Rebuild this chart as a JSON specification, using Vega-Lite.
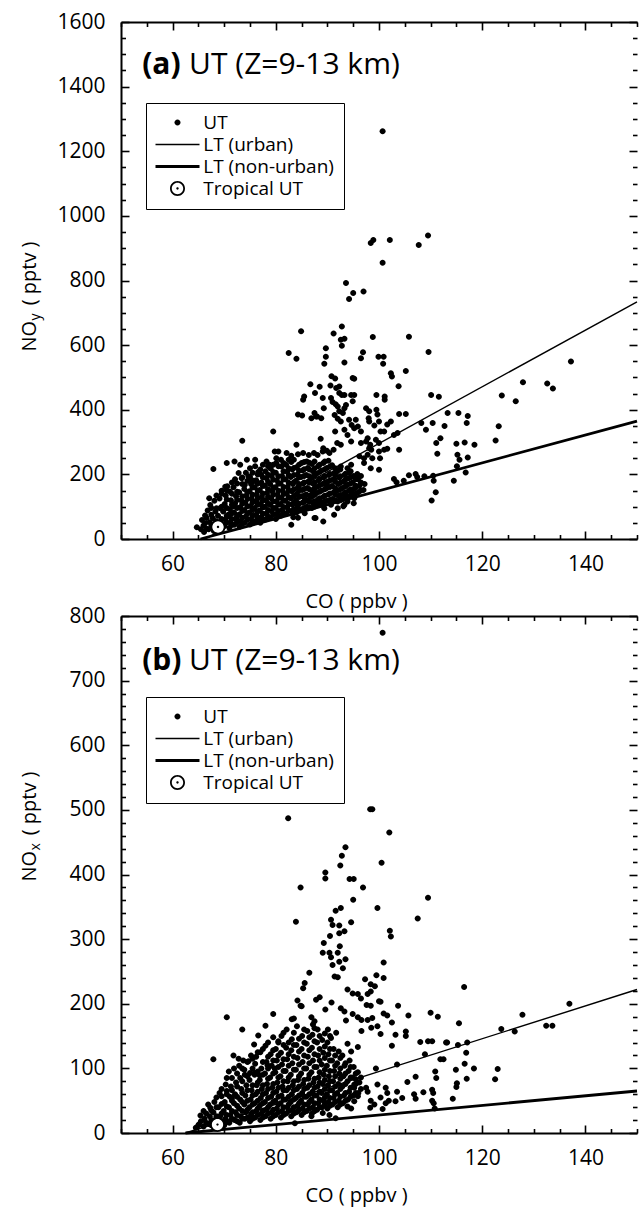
{
"$schema": "https://vega.github.io/schema/vega-lite/v6.json",
"padding": {"left": 19, "top": 11, "right": 0, "bottom": 8},
"background": "white",
"config": {
  "font": "Open Sans",
  "view": {"stroke": null},
  "axis": {"grid": false, "domainColor": "black", "domainWidth": 2, "tickColor": "black", "tickWidth": 1.6, "labelColor": "black", "labelFontSize": 21, "labelFont": "Open Sans", "titleFont": "Open Sans", "titleFontSize": 20, "titleFontWeight": "normal", "titleColor": "black", "labelFlush": false, "labelOverlap": false, "labelBound": false}
},
"datasets": {
"noy": [
{"CO":100.7,"NOy":1262},{"CO":98.4,"NOy":916},{"CO":98.9,"NOy":925},{"CO":102.1,"NOy":925},{"CO":107.7,"NOy":910},{"CO":109.5,"NOy":939},{"CO":100.7,"NOy":855},{"CO":93.6,"NOy":792},{"CO":95.0,"NOy":761},{"CO":94.2,"NOy":743},{"CO":97.0,"NOy":766},{"CO":84.9,"NOy":643},{"CO":91.2,"NOy":636},{"CO":92.8,"NOy":658},{"CO":92.6,"NOy":617},{"CO":93.3,"NOy":620},{"CO":92.8,"NOy":598},{"CO":98.8,"NOy":625},{"CO":105.8,"NOy":626},{"CO":82.5,"NOy":576},{"CO":84.0,"NOy":558},{"CO":89.7,"NOy":590},{"CO":89.7,"NOy":564},{"CO":89.4,"NOy":542},{"CO":96.9,"NOy":578},{"CO":96.5,"NOy":559},{"CO":93.3,"NOy":546},{"CO":99.9,"NOy":564},{"CO":100.9,"NOy":564},{"CO":100.8,"NOy":542},{"CO":109.6,"NOy":579},{"CO":137.2,"NOy":549},{"CO":102.3,"NOy":513},{"CO":102.5,"NOy":503},{"CO":105.2,"NOy":520},{"CO":103.8,"NOy":473},{"CO":90.8,"NOy":504},{"CO":91.5,"NOy":497},{"CO":94.9,"NOy":498},{"CO":95.2,"NOy":496},{"CO":86.7,"NOy":479},{"CO":88.5,"NOy":471},{"CO":90.6,"NOy":475},{"CO":92.3,"NOy":472},{"CO":91.7,"NOy":467},{"CO":92.3,"NOy":452},{"CO":92.8,"NOy":446},{"CO":93.3,"NOy":446},{"CO":94.6,"NOy":446},{"CO":95.2,"NOy":446},{"CO":94.9,"NOy":426},{"CO":87.6,"NOy":452},{"CO":89.1,"NOy":436},{"CO":85.5,"NOy":441},{"CO":85.3,"NOy":431},{"CO":90.7,"NOy":436},{"CO":91.0,"NOy":424},{"CO":91.6,"NOy":417},{"CO":92.0,"NOy":410},{"CO":93.3,"NOy":405},{"CO":93.6,"NOy":415},{"CO":92.3,"NOy":395},{"CO":93.0,"NOy":390},{"CO":91.4,"NOy":384},{"CO":92.0,"NOy":372},{"CO":92.6,"NOy":364},{"CO":94.2,"NOy":369},{"CO":94.7,"NOy":353},{"CO":95.2,"NOy":343},{"CO":99.5,"NOy":446},{"CO":101.1,"NOy":441},{"CO":101.1,"NOy":431},{"CO":97.5,"NOy":405},{"CO":98.1,"NOy":395},{"CO":99.5,"NOy":400},{"CO":99.7,"NOy":385},{"CO":98.0,"NOy":374},{"CO":98.1,"NOy":364},{"CO":100.0,"NOy":364},{"CO":99.1,"NOy":351},{"CO":103.9,"NOy":387},{"CO":105.2,"NOy":387},{"CO":102.3,"NOy":364},{"CO":101.6,"NOy":354},{"CO":101.0,"NOy":333},{"CO":100.3,"NOy":333},{"CO":102.9,"NOy":322},{"CO":103.6,"NOy":328},{"CO":99.4,"NOy":307},{"CO":100.0,"NOy":297},{"CO":98.3,"NOy":292},{"CO":98.5,"NOy":276},{"CO":101.6,"NOy":279},{"CO":100.0,"NOy":271},{"CO":101.0,"NOy":276},{"CO":103.9,"NOy":276},{"CO":97.8,"NOy":261},{"CO":97.1,"NOy":250},{"CO":96.2,"NOy":256},{"CO":98.7,"NOy":250},{"CO":100.2,"NOy":250},{"CO":97.1,"NOy":235},{"CO":98.4,"NOy":219},{"CO":100.0,"NOy":214},{"CO":95.8,"NOy":201},{"CO":94.6,"NOy":230},{"CO":93.9,"NOy":219},{"CO":92.6,"NOy":224},{"CO":96.5,"NOy":297},{"CO":97.5,"NOy":302},{"CO":98.1,"NOy":281},{"CO":97.8,"NOy":312},{"CO":95.5,"NOy":369},{"CO":95.9,"NOy":348},{"CO":96.5,"NOy":333},{"CO":93.3,"NOy":338},{"CO":93.9,"NOy":322},{"CO":94.6,"NOy":302},{"CO":92.6,"NOy":292},{"CO":91.9,"NOy":297},{"CO":91.2,"NOy":276},{"CO":89.2,"NOy":281},{"CO":89.9,"NOy":273},{"CO":90.4,"NOy":266},{"CO":87.8,"NOy":379},{"CO":86.9,"NOy":374},{"CO":87.5,"NOy":390},{"CO":84.3,"NOy":385},{"CO":88.7,"NOy":310},{"CO":91.5,"NOy":333},{"CO":89.3,"NOy":405},{"CO":85.1,"NOy":382},{"CO":88.0,"NOy":379},{"CO":88.8,"NOy":374},{"CO":79.5,"NOy":333},{"CO":73.5,"NOy":304},{"CO":84.0,"NOy":292},{"CO":79.8,"NOy":271},{"CO":80.5,"NOy":271},{"CO":82.1,"NOy":266},{"CO":83.0,"NOy":258},{"CO":84.3,"NOy":262},{"CO":85.3,"NOy":266},{"CO":86.4,"NOy":260},{"CO":87.4,"NOy":266},{"CO":88.1,"NOy":260},{"CO":89.1,"NOy":271},{"CO":70.5,"NOy":235},{"CO":72.0,"NOy":240},{"CO":73.1,"NOy":230},{"CO":74.4,"NOy":245},{"CO":76.0,"NOy":245},{"CO":75.0,"NOy":219},{"CO":76.6,"NOy":207},{"CO":78.2,"NOy":240},{"CO":78.8,"NOy":230},{"CO":80.1,"NOy":235},{"CO":81.1,"NOy":224},{"CO":67.9,"NOy":217},{"CO":67.1,"NOy":126},{"CO":70.6,"NOy":163},{"CO":72.8,"NOy":204},{"CO":73.4,"NOy":188},{"CO":74.7,"NOy":194},{"CO":75.6,"NOy":178},{"CO":77.2,"NOy":199},{"CO":74.0,"NOy":168},{"CO":69.5,"NOy":149},{"CO":70.2,"NOy":162},{"CO":71.1,"NOy":147},{"CO":66.3,"NOy":73},{"CO":65.7,"NOy":59},{"CO":64.7,"NOy":36},{"CO":66.3,"NOy":49},{"CO":68.3,"NOy":85},{"CO":69.2,"NOy":95},{"CO":70.8,"NOy":75},{"CO":71.8,"NOy":101},{"CO":72.4,"NOy":65},{"CO":76.3,"NOy":118},{"CO":86.9,"NOy":137},{"CO":87.8,"NOy":116},{"CO":85.6,"NOy":126},{"CO":84.3,"NOy":106},{"CO":87.5,"NOy":65},{"CO":89.2,"NOy":54},{"CO":84.3,"NOy":66},{"CO":83.0,"NOy":44},{"CO":83.4,"NOy":67},{"CO":87.7,"NOy":65},{"CO":91.3,"NOy":75},{"CO":93.1,"NOy":101},{"CO":85.6,"NOy":80},{"CO":95.5,"NOy":159},{"CO":95.8,"NOy":188},{"CO":94.6,"NOy":147},{"CO":95.2,"NOy":126},{"CO":95.1,"NOy":111},{"CO":93.9,"NOy":116},{"CO":93.3,"NOy":106},{"CO":92.0,"NOy":95},{"CO":90.7,"NOy":106},{"CO":89.4,"NOy":95},{"CO":88.8,"NOy":106},{"CO":91.4,"NOy":183},{"CO":89.8,"NOy":168},{"CO":108.2,"NOy":359},{"CO":109.1,"NOy":338},{"CO":127.9,"NOy":485},{"CO":132.6,"NOy":481},{"CO":133.7,"NOy":466},{"CO":123.8,"NOy":444},{"CO":126.5,"NOy":426},{"CO":110.1,"NOy":446},{"CO":111.6,"NOy":440},{"CO":113.3,"NOy":390},{"CO":115.4,"NOy":390},{"CO":117.2,"NOy":381},{"CO":110.4,"NOy":359},{"CO":112.7,"NOy":350},{"CO":117.0,"NOy":359},{"CO":123.2,"NOy":349},{"CO":111.9,"NOy":312},{"CO":111.1,"NOy":297},{"CO":115.0,"NOy":295},{"CO":116.6,"NOy":299},{"CO":118.5,"NOy":292},{"CO":122.6,"NOy":305},{"CO":111.3,"NOy":264},{"CO":115.2,"NOy":261},{"CO":115.6,"NOy":245},{"CO":117.2,"NOy":252},{"CO":115.1,"NOy":225},{"CO":116.8,"NOy":206},{"CO":114.5,"NOy":180},{"CO":110.5,"NOy":196},{"CO":110.6,"NOy":180},{"CO":111.0,"NOy":145},{"CO":110.2,"NOy":119},{"CO":102.9,"NOy":186},{"CO":103.4,"NOy":176},{"CO":104.8,"NOy":180},{"CO":105.8,"NOy":197},{"CO":107.1,"NOy":201},{"CO":107.4,"NOy":192},{"CO":108.8,"NOy":194},
{"CO":65.5,"NOy":30},{"CO":66.1,"NOy":22},{"CO":66.0,"NOy":42},{"CO":67.0,"NOy":30},{"CO":67.2,"NOy":52},{"CO":66.8,"NOy":88},{"CO":67.3,"NOy":105},{"CO":68.0,"NOy":25},{"CO":68.2,"NOy":44},{"CO":67.8,"NOy":64},{"CO":68.1,"NOy":118},{"CO":69.0,"NOy":30},{"CO":69.3,"NOy":52},{"CO":68.8,"NOy":72},{"CO":69.1,"NOy":125},{"CO":70.0,"NOy":40},{"CO":70.2,"NOy":60},{"CO":69.8,"NOy":85},{"CO":70.1,"NOy":108},{"CO":70.3,"NOy":135},{"CO":71.0,"NOy":34},{"CO":71.2,"NOy":52},{"CO":70.9,"NOy":70},{"CO":71.1,"NOy":92},{"CO":71.3,"NOy":120},{"CO":72.0,"NOy":44},{"CO":72.2,"NOy":62},{"CO":71.9,"NOy":82},{"CO":72.1,"NOy":110},{"CO":72.3,"NOy":132},{"CO":71.8,"NOy":160},{"CO":72.1,"NOy":185},{"CO":73.0,"NOy":38},{"CO":73.2,"NOy":56},{"CO":72.9,"NOy":76},{"CO":73.1,"NOy":98},{"CO":73.3,"NOy":120},{"CO":72.9,"NOy":145},{"CO":74.0,"NOy":50},{"CO":74.2,"NOy":70},{"CO":73.9,"NOy":90},{"CO":74.1,"NOy":112},{"CO":74.3,"NOy":135},{"CO":73.9,"NOy":155},{"CO":74.2,"NOy":205},{"CO":75.0,"NOy":45},{"CO":75.2,"NOy":62},{"CO":74.9,"NOy":82},{"CO":75.1,"NOy":102},{"CO":75.3,"NOy":125},{"CO":74.9,"NOy":148},{"CO":75.2,"NOy":170},{"CO":75.0,"NOy":192},{"CO":76.0,"NOy":55},{"CO":76.2,"NOy":74},{"CO":75.9,"NOy":96},{"CO":76.1,"NOy":116},{"CO":76.3,"NOy":138},{"CO":75.9,"NOy":160},{"CO":76.2,"NOy":182},{"CO":76.0,"NOy":225},{"CO":77.0,"NOy":50},{"CO":77.2,"NOy":68},{"CO":76.9,"NOy":88},{"CO":77.1,"NOy":108},{"CO":77.3,"NOy":130},{"CO":76.9,"NOy":152},{"CO":77.2,"NOy":175},{"CO":77.0,"NOy":215},{"CO":78.0,"NOy":60},{"CO":78.2,"NOy":80},{"CO":77.9,"NOy":100},{"CO":78.1,"NOy":120},{"CO":78.3,"NOy":142},{"CO":77.9,"NOy":165},{"CO":78.2,"NOy":188},{"CO":78.0,"NOy":210},{"CO":79.0,"NOy":66},{"CO":79.2,"NOy":86},{"CO":78.9,"NOy":106},{"CO":79.1,"NOy":126},{"CO":79.3,"NOy":148},{"CO":78.9,"NOy":170},{"CO":79.2,"NOy":195},{"CO":79.0,"NOy":218},{"CO":80.0,"NOy":62},{"CO":80.2,"NOy":78},{"CO":79.9,"NOy":96},{"CO":80.1,"NOy":116},{"CO":80.3,"NOy":138},{"CO":79.9,"NOy":160},{"CO":80.2,"NOy":182},{"CO":80.0,"NOy":205},{"CO":80.1,"NOy":250},{"CO":81.0,"NOy":72},{"CO":81.2,"NOy":90},{"CO":80.9,"NOy":108},{"CO":81.1,"NOy":128},{"CO":81.3,"NOy":150},{"CO":80.9,"NOy":172},{"CO":81.2,"NOy":195},{"CO":81.0,"NOy":245},{"CO":82.0,"NOy":78},{"CO":82.2,"NOy":98},{"CO":81.9,"NOy":118},{"CO":82.1,"NOy":140},{"CO":82.3,"NOy":162},{"CO":81.9,"NOy":185},{"CO":82.2,"NOy":208},{"CO":82.0,"NOy":230},{"CO":83.0,"NOy":86},{"CO":83.2,"NOy":106},{"CO":82.9,"NOy":126},{"CO":83.1,"NOy":148},{"CO":83.3,"NOy":170},{"CO":82.9,"NOy":192},{"CO":83.2,"NOy":215},{"CO":83.0,"NOy":238},{"CO":84.0,"NOy":82},{"CO":84.2,"NOy":100},{"CO":83.9,"NOy":120},{"CO":84.1,"NOy":140},{"CO":84.3,"NOy":160},{"CO":83.9,"NOy":180},{"CO":84.2,"NOy":200},{"CO":84.0,"NOy":222},{"CO":85.0,"NOy":92},{"CO":85.2,"NOy":112},{"CO":84.9,"NOy":132},{"CO":85.1,"NOy":152},{"CO":85.3,"NOy":172},{"CO":84.9,"NOy":192},{"CO":85.2,"NOy":212},{"CO":85.0,"NOy":235},{"CO":86.0,"NOy":100},{"CO":86.2,"NOy":118},{"CO":85.9,"NOy":138},{"CO":86.1,"NOy":158},{"CO":86.3,"NOy":178},{"CO":85.9,"NOy":198},{"CO":86.2,"NOy":220},{"CO":86.0,"NOy":240},{"CO":87.0,"NOy":96},{"CO":87.2,"NOy":112},{"CO":86.9,"NOy":130},{"CO":87.1,"NOy":150},{"CO":87.3,"NOy":170},{"CO":86.9,"NOy":190},{"CO":87.2,"NOy":210},{"CO":87.0,"NOy":232},{"CO":88.0,"NOy":104},{"CO":88.2,"NOy":122},{"CO":87.9,"NOy":142},{"CO":88.1,"NOy":162},{"CO":88.3,"NOy":182},{"CO":87.9,"NOy":202},{"CO":88.2,"NOy":225},{"CO":89.0,"NOy":112},{"CO":89.2,"NOy":130},{"CO":88.9,"NOy":150},{"CO":89.1,"NOy":170},{"CO":89.3,"NOy":190},{"CO":88.9,"NOy":212},{"CO":89.2,"NOy":235},{"CO":90.0,"NOy":118},{"CO":90.2,"NOy":138},{"CO":89.9,"NOy":158},{"CO":90.1,"NOy":178},{"CO":90.3,"NOy":198},{"CO":89.9,"NOy":220},{"CO":90.2,"NOy":242},{"CO":91.0,"NOy":124},{"CO":91.2,"NOy":144},{"CO":90.9,"NOy":164},{"CO":91.1,"NOy":184},{"CO":91.3,"NOy":204},{"CO":90.9,"NOy":228},{"CO":92.0,"NOy":116},{"CO":92.2,"NOy":132},{"CO":91.9,"NOy":150},{"CO":92.1,"NOy":170},{"CO":92.3,"NOy":190},{"CO":91.9,"NOy":210},{"CO":93.0,"NOy":124},{"CO":93.2,"NOy":140},{"CO":92.9,"NOy":158},{"CO":93.1,"NOy":178},{"CO":93.3,"NOy":198},{"CO":94.0,"NOy":132},{"CO":94.2,"NOy":150},{"CO":93.9,"NOy":168},{"CO":94.1,"NOy":188},{"CO":94.3,"NOy":206},{"CO":95.0,"NOy":138},{"CO":95.2,"NOy":156},{"CO":94.9,"NOy":175},{"CO":95.1,"NOy":195},{"CO":96.0,"NOy":145},{"CO":96.2,"NOy":165},{"CO":95.9,"NOy":185},{"CO":97.0,"NOy":152},{"CO":97.2,"NOy":170},
{"CO":66.6,"NOy":32},{"CO":66.6,"NOy":65},{"CO":67.5,"NOy":40},{"CO":67.5,"NOy":75},{"CO":67.5,"NOy":96},{"CO":68.5,"NOy":35},{"CO":68.5,"NOy":55},{"CO":68.5,"NOy":95},{"CO":68.5,"NOy":135},{"CO":69.5,"NOy":42},{"CO":69.5,"NOy":62},{"CO":69.5,"NOy":100},{"CO":69.5,"NOy":140},{"CO":70.5,"NOy":50},{"CO":70.5,"NOy":72},{"CO":70.5,"NOy":96},{"CO":70.5,"NOy":122},{"CO":70.5,"NOy":150},{"CO":71.5,"NOy":43},{"CO":71.5,"NOy":62},{"CO":71.5,"NOy":80},{"CO":71.5,"NOy":106},{"CO":71.5,"NOy":140},{"CO":71.5,"NOy":175},{"CO":72.5,"NOy":52},{"CO":72.5,"NOy":72},{"CO":72.5,"NOy":96},{"CO":72.5,"NOy":121},{"CO":72.5,"NOy":146},{"CO":72.5,"NOy":172},{"CO":73.5,"NOy":47},{"CO":73.5,"NOy":66},{"CO":73.5,"NOy":87},{"CO":73.5,"NOy":109},{"CO":73.5,"NOy":132},{"CO":73.5,"NOy":170},{"CO":73.5,"NOy":190},{"CO":74.5,"NOy":60},{"CO":74.5,"NOy":80},{"CO":74.5,"NOy":101},{"CO":74.5,"NOy":124},{"CO":74.5,"NOy":145},{"CO":74.5,"NOy":180},{"CO":75.5,"NOy":54},{"CO":75.5,"NOy":72},{"CO":75.5,"NOy":92},{"CO":75.5,"NOy":114},{"CO":75.5,"NOy":137},{"CO":75.5,"NOy":159},{"CO":75.5,"NOy":181},{"CO":75.5,"NOy":205},{"CO":76.5,"NOy":64},{"CO":76.5,"NOy":85},{"CO":76.5,"NOy":106},{"CO":76.5,"NOy":127},{"CO":76.5,"NOy":149},{"CO":76.5,"NOy":171},{"CO":76.5,"NOy":200},{"CO":77.5,"NOy":59},{"CO":77.5,"NOy":78},{"CO":77.5,"NOy":98},{"CO":77.5,"NOy":119},{"CO":77.5,"NOy":141},{"CO":77.5,"NOy":164},{"CO":77.5,"NOy":190},{"CO":77.5,"NOy":230},{"CO":78.5,"NOy":70},{"CO":78.5,"NOy":90},{"CO":78.5,"NOy":110},{"CO":78.5,"NOy":131},{"CO":78.5,"NOy":154},{"CO":78.5,"NOy":177},{"CO":78.5,"NOy":199},{"CO":78.5,"NOy":225},{"CO":79.5,"NOy":76},{"CO":79.5,"NOy":96},{"CO":79.5,"NOy":116},{"CO":79.5,"NOy":137},{"CO":79.5,"NOy":159},{"CO":79.5,"NOy":183},{"CO":79.5,"NOy":207},{"CO":79.5,"NOy":230},{"CO":80.5,"NOy":70},{"CO":80.5,"NOy":87},{"CO":80.5,"NOy":106},{"CO":80.5,"NOy":127},{"CO":80.5,"NOy":149},{"CO":80.5,"NOy":171},{"CO":80.5,"NOy":194},{"CO":80.5,"NOy":225},{"CO":81.5,"NOy":81},{"CO":81.5,"NOy":99},{"CO":81.5,"NOy":118},{"CO":81.5,"NOy":139},{"CO":81.5,"NOy":161},{"CO":81.5,"NOy":184},{"CO":81.5,"NOy":210},{"CO":81.5,"NOy":235},{"CO":82.5,"NOy":88},{"CO":82.5,"NOy":108},{"CO":82.5,"NOy":129},{"CO":82.5,"NOy":151},{"CO":82.5,"NOy":174},{"CO":82.5,"NOy":197},{"CO":82.5,"NOy":219},{"CO":82.5,"NOy":245},{"CO":83.5,"NOy":92},{"CO":83.5,"NOy":113},{"CO":83.5,"NOy":133},{"CO":83.5,"NOy":154},{"CO":83.5,"NOy":176},{"CO":83.5,"NOy":198},{"CO":83.5,"NOy":220},{"CO":83.5,"NOy":245},{"CO":84.5,"NOy":91},{"CO":84.5,"NOy":110},{"CO":84.5,"NOy":130},{"CO":84.5,"NOy":150},{"CO":84.5,"NOy":170},{"CO":84.5,"NOy":190},{"CO":84.5,"NOy":211},{"CO":84.5,"NOy":230},{"CO":85.5,"NOy":96},{"CO":85.5,"NOy":115},{"CO":85.5,"NOy":135},{"CO":85.5,"NOy":155},{"CO":85.5,"NOy":175},{"CO":85.5,"NOy":195},{"CO":85.5,"NOy":216},{"CO":85.5,"NOy":238},{"CO":86.5,"NOy":98},{"CO":86.5,"NOy":115},{"CO":86.5,"NOy":134},{"CO":86.5,"NOy":154},{"CO":86.5,"NOy":174},{"CO":86.5,"NOy":194},{"CO":86.5,"NOy":215},{"CO":86.5,"NOy":236},{"CO":87.5,"NOy":100},{"CO":87.5,"NOy":117},{"CO":87.5,"NOy":136},{"CO":87.5,"NOy":156},{"CO":87.5,"NOy":176},{"CO":87.5,"NOy":196},{"CO":87.5,"NOy":218},{"CO":87.5,"NOy":240},{"CO":88.5,"NOy":108},{"CO":88.5,"NOy":126},{"CO":88.5,"NOy":146},{"CO":88.5,"NOy":166},{"CO":88.5,"NOy":186},{"CO":88.5,"NOy":207},{"CO":88.5,"NOy":230},{"CO":89.5,"NOy":115},{"CO":89.5,"NOy":134},{"CO":89.5,"NOy":154},{"CO":89.5,"NOy":174},{"CO":89.5,"NOy":194},{"CO":89.5,"NOy":216},{"CO":89.5,"NOy":240},{"CO":90.5,"NOy":121},{"CO":90.5,"NOy":141},{"CO":90.5,"NOy":161},{"CO":90.5,"NOy":181},{"CO":90.5,"NOy":201},{"CO":90.5,"NOy":224},{"CO":91.5,"NOy":120},{"CO":91.5,"NOy":138},{"CO":91.5,"NOy":157},{"CO":91.5,"NOy":177},{"CO":91.5,"NOy":197},{"CO":91.5,"NOy":219},{"CO":92.5,"NOy":120},{"CO":92.5,"NOy":136},{"CO":92.5,"NOy":154},{"CO":92.5,"NOy":174},{"CO":92.5,"NOy":194},{"CO":92.5,"NOy":215},{"CO":93.5,"NOy":128},{"CO":93.5,"NOy":145},{"CO":93.5,"NOy":163},{"CO":93.5,"NOy":183},{"CO":93.5,"NOy":202},{"CO":94.5,"NOy":135},{"CO":94.5,"NOy":153},{"CO":94.5,"NOy":172},{"CO":94.5,"NOy":191},{"CO":94.5,"NOy":210},{"CO":95.5,"NOy":141},{"CO":95.5,"NOy":165},{"CO":95.5,"NOy":185},{"CO":96.5,"NOy":150},{"CO":96.5,"NOy":175},{"CO":96.5,"NOy":195}
],
"nox": [
{"CO":100.7,"NOx":774},{"CO":82.4,"NOx":487},{"CO":98.3,"NOx":501},{"CO":98.7,"NOx":501},{"CO":102.0,"NOx":465},{"CO":93.5,"NOx":442},{"CO":92.8,"NOx":429},{"CO":92.5,"NOx":414},{"CO":100.5,"NOx":418},{"CO":89.6,"NOx":403},{"CO":89.6,"NOx":394},{"CO":94.3,"NOx":393},{"CO":95.1,"NOx":393},{"CO":96.9,"NOx":380},{"CO":84.8,"NOx":380},{"CO":95.0,"NOx":361},{"CO":99.7,"NOx":348},{"CO":109.5,"NOx":364},{"CO":107.5,"NOx":332},{"CO":91.6,"NOx":344},{"CO":92.6,"NOx":348},{"CO":90.7,"NOx":330},{"CO":91.0,"NOx":322},{"CO":92.3,"NOx":321},{"CO":92.3,"NOx":309},{"CO":93.3,"NOx":312},{"CO":94.6,"NOx":326},{"CO":90.5,"NOx":305},{"CO":89.3,"NOx":294},{"CO":92.4,"NOx":289},{"CO":89.1,"NOx":279},{"CO":90.4,"NOx":279},{"CO":92.0,"NOx":279},{"CO":90.7,"NOx":272},{"CO":91.0,"NOx":260},{"CO":92.3,"NOx":265},{"CO":93.0,"NOx":255},{"CO":93.5,"NOx":269},{"CO":102.1,"NOx":313},{"CO":102.3,"NOx":304},{"CO":100.9,"NOx":264},{"CO":99.5,"NOx":244},{"CO":100.9,"NOx":240},{"CO":97.3,"NOx":238},{"CO":98.4,"NOx":230},{"CO":99.2,"NOx":227},{"CO":98.4,"NOx":219},{"CO":97.8,"NOx":215},{"CO":91.4,"NOx":242},{"CO":92.0,"NOx":241},{"CO":86.5,"NOx":248},{"CO":85.6,"NOx":232},{"CO":85.3,"NOx":224},{"CO":84.8,"NOx":197},{"CO":87.8,"NOx":206},{"CO":88.5,"NOx":210},{"CO":90.8,"NOx":202},{"CO":92.6,"NOx":193},{"CO":93.9,"NOx":222},{"CO":94.9,"NOx":216},{"CO":95.9,"NOx":215},{"CO":96.5,"NOx":208},{"CO":97.6,"NOx":198},{"CO":98.4,"NOx":197},{"CO":100.0,"NOx":204},{"CO":100.3,"NOx":203},{"CO":103.7,"NOx":197},{"CO":100.9,"NOx":185},{"CO":101.6,"NOx":182},{"CO":93.3,"NOx":188},{"CO":93.6,"NOx":174},{"CO":86.9,"NOx":179},{"CO":87.2,"NOx":168},{"CO":94.9,"NOx":184},{"CO":95.9,"NOx":179},{"CO":96.6,"NOx":175},{"CO":97.8,"NOx":175},{"CO":98.7,"NOx":178},{"CO":98.5,"NOx":163},{"CO":99.7,"NOx":165},{"CO":100.3,"NOx":153},{"CO":102.5,"NOx":171},{"CO":105.7,"NOx":182},{"CO":110.0,"NOx":186},{"CO":111.4,"NOx":180},{"CO":103.2,"NOx":152},{"CO":105.2,"NOx":157},{"CO":105.2,"NOx":150},{"CO":96.6,"NOx":158},{"CO":102.5,"NOx":135},{"CO":108.0,"NOx":141},{"CO":109.5,"NOx":142},{"CO":110.3,"NOx":142},{"CO":108.9,"NOx":122},{"CO":113.0,"NOx":140},{"CO":111.9,"NOx":114},{"CO":112.5,"NOx":114},{"CO":95.9,"NOx":133},{"CO":93.9,"NOx":138},{"CO":94.6,"NOx":126},{"CO":91.7,"NOx":155},{"CO":90.7,"NOx":147},{"CO":103.5,"NOx":106},{"CO":99.4,"NOx":100},{"CO":95.5,"NOx":83},{"CO":95.2,"NOx":75},{"CO":97.5,"NOx":70},{"CO":97.8,"NOx":64},{"CO":99.7,"NOx":75},{"CO":101.3,"NOx":70},{"CO":101.6,"NOx":62},{"CO":103.5,"NOx":64},{"CO":105.5,"NOx":79},{"CO":107.1,"NOx":87},{"CO":106.8,"NOx":60},{"CO":107.1,"NOx":53},{"CO":108.6,"NOx":63},{"CO":110.3,"NOx":67},{"CO":110.5,"NOx":62},{"CO":110.9,"NOx":95},{"CO":111.1,"NOx":85},{"CO":110.3,"NOx":50},{"CO":110.6,"NOx":46},{"CO":110.8,"NOx":38},{"CO":95.9,"NOx":57},{"CO":98.4,"NOx":50},{"CO":100.3,"NOx":55},{"CO":101.9,"NOx":50},{"CO":103.2,"NOx":49},{"CO":104.5,"NOx":54},{"CO":101.3,"NOx":46},{"CO":100.7,"NOx":37},{"CO":98.3,"NOx":39},{"CO":99.1,"NOx":44},{"CO":93.9,"NOx":41},{"CO":94.6,"NOx":38},{"CO":95.2,"NOx":49},{"CO":91.6,"NOx":23},{"CO":87.5,"NOx":34},{"CO":86.9,"NOx":26},{"CO":89.1,"NOx":31},{"CO":90.4,"NOx":28},{"CO":84.3,"NOx":34},{"CO":116.5,"NOx":226},{"CO":136.9,"NOx":200},{"CO":127.8,"NOx":183},{"CO":115.5,"NOx":170},{"CO":123.7,"NOx":161},{"CO":126.3,"NOx":157},{"CO":132.4,"NOx":166},{"CO":133.6,"NOx":166},{"CO":113.2,"NOx":140},{"CO":115.3,"NOx":136},{"CO":117.1,"NOx":140},{"CO":116.9,"NOx":124},{"CO":116.6,"NOx":107},{"CO":118.4,"NOx":100},{"CO":123.0,"NOx":99},{"CO":122.5,"NOx":83},{"CO":114.9,"NOx":98},{"CO":115.1,"NOx":77},{"CO":115.0,"NOx":71},{"CO":117.0,"NOx":84},{"CO":114.3,"NOx":53},{"CO":84.2,"NOx":205},{"CO":89.6,"NOx":191},{"CO":79.5,"NOx":184},{"CO":83.5,"NOx":177},{"CO":87.5,"NOx":173},{"CO":70.5,"NOx":179},{"CO":78.0,"NOx":166},{"CO":73.5,"NOx":160},{"CO":76.6,"NOx":151},{"CO":75.8,"NOx":137},{"CO":79.5,"NOx":148},{"CO":80.5,"NOx":142},{"CO":67.9,"NOx":114},{"CO":71.8,"NOx":120},{"CO":72.8,"NOx":115},{"CO":73.7,"NOx":112},{"CO":74.7,"NOx":111},{"CO":76.0,"NOx":107},{"CO":78.4,"NOx":105},{"CO":79.8,"NOx":100},{"CO":73.1,"NOx":85},{"CO":74.0,"NOx":90},{"CO":75.0,"NOx":93},{"CO":75.9,"NOx":93},{"CO":76.9,"NOx":89},{"CO":70.5,"NOx":65},{"CO":69.5,"NOx":57},{"CO":71.5,"NOx":54},{"CO":66.0,"NOx":34},{"CO":65.4,"NOx":27},{"CO":67.3,"NOx":39},{"CO":65.1,"NOx":13},{"CO":83.7,"NOx":15},{"CO":83.9,"NOx":327},{"CO":83.1,"NOx":176},{"CO":85.0,"NOx":196},
{"CO":64.5,"NOx":8},{"CO":65.5,"NOx":18},{"CO":66.0,"NOx":10},{"CO":66.2,"NOx":22},{"CO":67.0,"NOx":14},{"CO":67.2,"NOx":26},{"CO":66.9,"NOx":44},{"CO":68.0,"NOx":10},{"CO":68.2,"NOx":20},{"CO":67.9,"NOx":32},{"CO":68.1,"NOx":48},{"CO":69.0,"NOx":14},{"CO":69.2,"NOx":26},{"CO":68.9,"NOx":40},{"CO":69.1,"NOx":62},{"CO":70.0,"NOx":12},{"CO":70.2,"NOx":22},{"CO":69.9,"NOx":34},{"CO":70.1,"NOx":48},{"CO":70.3,"NOx":75},{"CO":71.0,"NOx":16},{"CO":71.2,"NOx":28},{"CO":70.9,"NOx":40},{"CO":71.1,"NOx":56},{"CO":71.3,"NOx":72},{"CO":70.9,"NOx":95},{"CO":72.0,"NOx":20},{"CO":72.2,"NOx":32},{"CO":71.9,"NOx":46},{"CO":72.1,"NOx":60},{"CO":72.3,"NOx":78},{"CO":71.9,"NOx":100},{"CO":73.0,"NOx":16},{"CO":73.2,"NOx":26},{"CO":72.9,"NOx":38},{"CO":73.1,"NOx":52},{"CO":73.3,"NOx":68},{"CO":72.9,"NOx":104},{"CO":74.0,"NOx":22},{"CO":74.2,"NOx":32},{"CO":73.9,"NOx":44},{"CO":74.1,"NOx":58},{"CO":74.3,"NOx":74},{"CO":73.9,"NOx":98},{"CO":75.0,"NOx":18},{"CO":75.2,"NOx":28},{"CO":74.9,"NOx":40},{"CO":75.1,"NOx":52},{"CO":75.3,"NOx":66},{"CO":74.9,"NOx":82},{"CO":75.2,"NOx":120},{"CO":76.0,"NOx":24},{"CO":76.2,"NOx":34},{"CO":75.9,"NOx":46},{"CO":76.1,"NOx":60},{"CO":76.3,"NOx":74},{"CO":75.9,"NOx":90},{"CO":76.2,"NOx":118},{"CO":77.0,"NOx":20},{"CO":77.2,"NOx":30},{"CO":76.9,"NOx":42},{"CO":77.1,"NOx":54},{"CO":77.3,"NOx":68},{"CO":76.9,"NOx":82},{"CO":77.2,"NOx":100},{"CO":77.0,"NOx":125},{"CO":78.0,"NOx":26},{"CO":78.2,"NOx":36},{"CO":77.9,"NOx":48},{"CO":78.1,"NOx":62},{"CO":78.3,"NOx":76},{"CO":77.9,"NOx":92},{"CO":78.2,"NOx":110},{"CO":78.0,"NOx":135},{"CO":79.0,"NOx":22},{"CO":79.2,"NOx":32},{"CO":78.9,"NOx":44},{"CO":79.1,"NOx":56},{"CO":79.3,"NOx":70},{"CO":78.9,"NOx":86},{"CO":79.2,"NOx":104},{"CO":79.0,"NOx":122},{"CO":80.0,"NOx":28},{"CO":80.2,"NOx":38},{"CO":79.9,"NOx":50},{"CO":80.1,"NOx":64},{"CO":80.3,"NOx":78},{"CO":79.9,"NOx":94},{"CO":80.2,"NOx":112},{"CO":80.0,"NOx":130},{"CO":81.0,"NOx":24},{"CO":81.2,"NOx":34},{"CO":80.9,"NOx":46},{"CO":81.1,"NOx":58},{"CO":81.3,"NOx":72},{"CO":80.9,"NOx":88},{"CO":81.2,"NOx":106},{"CO":81.0,"NOx":124},{"CO":81.1,"NOx":150},{"CO":82.0,"NOx":30},{"CO":82.2,"NOx":40},{"CO":81.9,"NOx":52},{"CO":82.1,"NOx":66},{"CO":82.3,"NOx":80},{"CO":81.9,"NOx":96},{"CO":82.2,"NOx":114},{"CO":82.0,"NOx":132},{"CO":82.1,"NOx":160},{"CO":83.0,"NOx":26},{"CO":83.2,"NOx":36},{"CO":82.9,"NOx":48},{"CO":83.1,"NOx":60},{"CO":83.3,"NOx":74},{"CO":82.9,"NOx":90},{"CO":83.2,"NOx":108},{"CO":83.0,"NOx":128},{"CO":83.1,"NOx":145},{"CO":84.0,"NOx":32},{"CO":84.2,"NOx":42},{"CO":83.9,"NOx":54},{"CO":84.1,"NOx":68},{"CO":84.3,"NOx":82},{"CO":83.9,"NOx":98},{"CO":84.2,"NOx":116},{"CO":84.0,"NOx":136},{"CO":84.1,"NOx":165},{"CO":85.0,"NOx":28},{"CO":85.2,"NOx":38},{"CO":84.9,"NOx":50},{"CO":85.1,"NOx":62},{"CO":85.3,"NOx":76},{"CO":84.9,"NOx":92},{"CO":85.2,"NOx":110},{"CO":85.0,"NOx":130},{"CO":85.1,"NOx":150},{"CO":86.0,"NOx":34},{"CO":86.2,"NOx":44},{"CO":85.9,"NOx":56},{"CO":86.1,"NOx":70},{"CO":86.3,"NOx":84},{"CO":85.9,"NOx":100},{"CO":86.2,"NOx":118},{"CO":86.0,"NOx":138},{"CO":86.1,"NOx":158},{"CO":87.0,"NOx":30},{"CO":87.2,"NOx":40},{"CO":86.9,"NOx":52},{"CO":87.1,"NOx":64},{"CO":87.3,"NOx":78},{"CO":86.9,"NOx":94},{"CO":87.2,"NOx":112},{"CO":87.0,"NOx":132},{"CO":87.1,"NOx":152},{"CO":88.0,"NOx":36},{"CO":88.2,"NOx":46},{"CO":87.9,"NOx":58},{"CO":88.1,"NOx":72},{"CO":88.3,"NOx":86},{"CO":87.9,"NOx":102},{"CO":88.2,"NOx":120},{"CO":88.0,"NOx":140},{"CO":88.1,"NOx":160},{"CO":89.0,"NOx":40},{"CO":89.2,"NOx":50},{"CO":88.9,"NOx":62},{"CO":89.1,"NOx":76},{"CO":89.3,"NOx":90},{"CO":88.9,"NOx":106},{"CO":89.2,"NOx":124},{"CO":89.0,"NOx":144},{"CO":90.0,"NOx":38},{"CO":90.2,"NOx":48},{"CO":89.9,"NOx":60},{"CO":90.1,"NOx":74},{"CO":90.3,"NOx":88},{"CO":89.9,"NOx":104},{"CO":90.2,"NOx":122},{"CO":90.0,"NOx":140},{"CO":90.1,"NOx":160},{"CO":91.0,"NOx":44},{"CO":91.2,"NOx":54},{"CO":90.9,"NOx":66},{"CO":91.1,"NOx":80},{"CO":91.3,"NOx":96},{"CO":90.9,"NOx":112},{"CO":91.2,"NOx":130},{"CO":92.0,"NOx":40},{"CO":92.2,"NOx":50},{"CO":91.9,"NOx":62},{"CO":92.1,"NOx":76},{"CO":92.3,"NOx":92},{"CO":91.9,"NOx":108},{"CO":92.2,"NOx":126},{"CO":93.0,"NOx":46},{"CO":93.2,"NOx":58},{"CO":92.9,"NOx":72},{"CO":93.1,"NOx":88},{"CO":93.3,"NOx":104},{"CO":92.9,"NOx":120},{"CO":94.0,"NOx":52},{"CO":94.2,"NOx":64},{"CO":93.9,"NOx":80},{"CO":94.1,"NOx":96},{"CO":94.3,"NOx":112},{"CO":95.0,"NOx":58},{"CO":95.2,"NOx":70},{"CO":94.9,"NOx":86},{"CO":95.1,"NOx":102},{"CO":96.0,"NOx":62},{"CO":96.2,"NOx":78},{"CO":95.9,"NOx":94},
{"CO":65.0,"NOx":12},{"CO":66.5,"NOx":16},{"CO":66.5,"NOx":30},{"CO":67.5,"NOx":12},{"CO":67.5,"NOx":20},{"CO":67.5,"NOx":35},{"CO":68.5,"NOx":15},{"CO":68.5,"NOx":26},{"CO":68.5,"NOx":40},{"CO":68.5,"NOx":55},{"CO":69.5,"NOx":18},{"CO":69.5,"NOx":30},{"CO":69.5,"NOx":45},{"CO":69.5,"NOx":68},{"CO":70.5,"NOx":17},{"CO":70.5,"NOx":28},{"CO":70.5,"NOx":41},{"CO":70.5,"NOx":60},{"CO":70.5,"NOx":85},{"CO":71.5,"NOx":22},{"CO":71.5,"NOx":34},{"CO":71.5,"NOx":50},{"CO":71.5,"NOx":66},{"CO":71.5,"NOx":85},{"CO":72.5,"NOx":18},{"CO":72.5,"NOx":28},{"CO":72.5,"NOx":42},{"CO":72.5,"NOx":56},{"CO":72.5,"NOx":72},{"CO":72.5,"NOx":92},{"CO":73.5,"NOx":22},{"CO":73.5,"NOx":34},{"CO":73.5,"NOx":48},{"CO":73.5,"NOx":62},{"CO":73.5,"NOx":80},{"CO":73.5,"NOx":100},{"CO":74.5,"NOx":24},{"CO":74.5,"NOx":36},{"CO":74.5,"NOx":50},{"CO":74.5,"NOx":66},{"CO":74.5,"NOx":88},{"CO":74.5,"NOx":110},{"CO":75.5,"NOx":22},{"CO":75.5,"NOx":32},{"CO":75.5,"NOx":44},{"CO":75.5,"NOx":58},{"CO":75.5,"NOx":74},{"CO":75.5,"NOx":100},{"CO":75.5,"NOx":115},{"CO":76.5,"NOx":28},{"CO":76.5,"NOx":38},{"CO":76.5,"NOx":50},{"CO":76.5,"NOx":64},{"CO":76.5,"NOx":78},{"CO":76.5,"NOx":95},{"CO":76.5,"NOx":125},{"CO":77.5,"NOx":24},{"CO":77.5,"NOx":34},{"CO":77.5,"NOx":46},{"CO":77.5,"NOx":60},{"CO":77.5,"NOx":74},{"CO":77.5,"NOx":90},{"CO":77.5,"NOx":110},{"CO":77.5,"NOx":130},{"CO":78.5,"NOx":30},{"CO":78.5,"NOx":40},{"CO":78.5,"NOx":54},{"CO":78.5,"NOx":68},{"CO":78.5,"NOx":84},{"CO":78.5,"NOx":100},{"CO":78.5,"NOx":118},{"CO":78.5,"NOx":140},{"CO":79.5,"NOx":26},{"CO":79.5,"NOx":36},{"CO":79.5,"NOx":48},{"CO":79.5,"NOx":62},{"CO":79.5,"NOx":76},{"CO":79.5,"NOx":92},{"CO":79.5,"NOx":112},{"CO":79.5,"NOx":128},{"CO":80.5,"NOx":32},{"CO":80.5,"NOx":44},{"CO":80.5,"NOx":56},{"CO":80.5,"NOx":70},{"CO":80.5,"NOx":86},{"CO":80.5,"NOx":102},{"CO":80.5,"NOx":120},{"CO":80.5,"NOx":140},{"CO":81.5,"NOx":28},{"CO":81.5,"NOx":40},{"CO":81.5,"NOx":52},{"CO":81.5,"NOx":66},{"CO":81.5,"NOx":80},{"CO":81.5,"NOx":96},{"CO":81.5,"NOx":114},{"CO":81.5,"NOx":136},{"CO":81.5,"NOx":155},{"CO":82.5,"NOx":34},{"CO":82.5,"NOx":44},{"CO":82.5,"NOx":56},{"CO":82.5,"NOx":70},{"CO":82.5,"NOx":86},{"CO":82.5,"NOx":104},{"CO":82.5,"NOx":122},{"CO":82.5,"NOx":140},{"CO":83.5,"NOx":30},{"CO":83.5,"NOx":40},{"CO":83.5,"NOx":52},{"CO":83.5,"NOx":66},{"CO":83.5,"NOx":80},{"CO":83.5,"NOx":98},{"CO":83.5,"NOx":118},{"CO":83.5,"NOx":136},{"CO":83.5,"NOx":155},{"CO":84.5,"NOx":36},{"CO":84.5,"NOx":46},{"CO":84.5,"NOx":58},{"CO":84.5,"NOx":72},{"CO":84.5,"NOx":88},{"CO":84.5,"NOx":106},{"CO":84.5,"NOx":126},{"CO":84.5,"NOx":146},{"CO":85.5,"NOx":32},{"CO":85.5,"NOx":44},{"CO":85.5,"NOx":56},{"CO":85.5,"NOx":68},{"CO":85.5,"NOx":82},{"CO":85.5,"NOx":100},{"CO":85.5,"NOx":120},{"CO":85.5,"NOx":140},{"CO":85.5,"NOx":160},{"CO":86.5,"NOx":38},{"CO":86.5,"NOx":48},{"CO":86.5,"NOx":60},{"CO":86.5,"NOx":74},{"CO":86.5,"NOx":90},{"CO":86.5,"NOx":108},{"CO":86.5,"NOx":128},{"CO":86.5,"NOx":148},{"CO":87.5,"NOx":34},{"CO":87.5,"NOx":46},{"CO":87.5,"NOx":58},{"CO":87.5,"NOx":70},{"CO":87.5,"NOx":84},{"CO":87.5,"NOx":102},{"CO":87.5,"NOx":122},{"CO":87.5,"NOx":142},{"CO":87.5,"NOx":162},{"CO":88.5,"NOx":40},{"CO":88.5,"NOx":52},{"CO":88.5,"NOx":64},{"CO":88.5,"NOx":78},{"CO":88.5,"NOx":94},{"CO":88.5,"NOx":112},{"CO":88.5,"NOx":130},{"CO":88.5,"NOx":150},{"CO":89.5,"NOx":44},{"CO":89.5,"NOx":55},{"CO":89.5,"NOx":68},{"CO":89.5,"NOx":82},{"CO":89.5,"NOx":98},{"CO":89.5,"NOx":116},{"CO":89.5,"NOx":134},{"CO":89.5,"NOx":154},{"CO":90.5,"NOx":42},{"CO":90.5,"NOx":54},{"CO":90.5,"NOx":66},{"CO":90.5,"NOx":80},{"CO":90.5,"NOx":96},{"CO":90.5,"NOx":112},{"CO":90.5,"NOx":130},{"CO":90.5,"NOx":150},{"CO":91.5,"NOx":48},{"CO":91.5,"NOx":60},{"CO":91.5,"NOx":72},{"CO":91.5,"NOx":88},{"CO":91.5,"NOx":104},{"CO":91.5,"NOx":120},{"CO":92.5,"NOx":44},{"CO":92.5,"NOx":56},{"CO":92.5,"NOx":68},{"CO":92.5,"NOx":84},{"CO":92.5,"NOx":100},{"CO":92.5,"NOx":116},{"CO":93.5,"NOx":50},{"CO":93.5,"NOx":62},{"CO":93.5,"NOx":76},{"CO":93.5,"NOx":92},{"CO":93.5,"NOx":108},{"CO":94.5,"NOx":56},{"CO":94.5,"NOx":70},{"CO":94.5,"NOx":86},{"CO":94.5,"NOx":102},{"CO":95.5,"NOx":62},{"CO":95.5,"NOx":76},{"CO":95.5,"NOx":92},{"CO":96.5,"NOx":68},{"CO":96.5,"NOx":86}
],
"lines_a": [{"series":"LT (urban)","CO":66.3,"NOy":0},{"series":"LT (urban)","CO":150,"NOy":734},{"series":"LT (non-urban)","CO":65.4,"NOy":0},{"series":"LT (non-urban)","CO":150,"NOy":365}],
"lines_b": [{"series":"LT (urban)","CO":62.5,"NOx":0},{"series":"LT (urban)","CO":150,"NOx":222},{"series":"LT (non-urban)","CO":62.5,"NOx":0},{"series":"LT (non-urban)","CO":150,"NOx":65}],
"trop_a": [{"CO":68.8,"NOy":37}],
"trop_b": [{"CO":68.7,"NOx":13}]
},
"spacing": 77,
"bounds": "flush",
"resolve": {"scale": {"shape": "independent", "strokeWidth": "independent", "x": "independent", "y": "independent"}, "legend": {"shape": "independent", "strokeWidth": "independent"}},
"vconcat": [
{
 "width": 516, "height": 517,
 "resolve": {"axis": {"x": "independent", "y": "independent"}},
 "layer": [
  {
   "data": {"name": "noy"},
   "mark": {"type": "point", "filled": true, "color": "black", "size": 4, "opacity": 1},
   "encoding": {
    "x": {"field": "CO", "type": "quantitative", "scale": {"domain": [50, 150], "nice": false, "zero": false},
      "axis": {"orient": "bottom", "values": [50,55,60,65,70,75,80,85,90,95,100,105,110,115,120,125,130,135,140,145,150], "labelExpr": "datum.value % 20 === 0 ? datum.label : ''", "tickSize": {"condition": {"test": "datum.value % 20 === 0", "value": -8}, "value": -4.5}, "labelPadding": 22, "title": "CO ( ppbv )", "titlePadding": 14, "titleX": 235}},
    "y": {"field": "NOy", "type": "quantitative", "scale": {"domain": [0, 1600], "nice": false},
      "axis": {"orient": "left", "format": "d", "values": [0,50,100,150,200,250,300,350,400,450,500,550,600,650,700,750,800,850,900,950,1000,1050,1100,1150,1200,1250,1300,1350,1400,1450,1500,1550,1600], "labelExpr": "datum.value % 200 === 0 ? datum.label : ''", "tickSize": {"condition": {"test": "datum.value % 200 === 0", "value": -8}, "value": -4.5}, "labelPadding": 24, "title": "NO\u00a0\u00a0 ( pptv )", "titleAngle": 270, "titleAlign": "left", "titleBaseline": "alphabetic", "titleX": -86, "titleY": 329}},
    "shape": {"datum": "UT", "type": "nominal",
      "scale": {"domain": ["UT", "LT (urban)", "LT (non-urban)", "Tropical UT"], "range": ["M-3,0A3,3,0,1,1,3,0A3,3,0,1,1,-3,0Z", "M-22,-0.8H22V0.8H-22Z", "M-22,-1.5H22V1.5H-22Z", "M-7.5,0A7.5,7.5,0,1,1,7.5,0A7.5,7.5,0,1,1,-7.5,0ZM-5.7,0A5.7,5.7,0,1,0,5.7,0A5.7,5.7,0,1,0,-5.7,0ZM-1.2,0A1.2,1.2,0,1,1,1.2,0A1.2,1.2,0,1,1,-1.2,0Z"]},
      "legend": {"orient": "none", "legendX": 25, "legendY": 81, "title": null, "padding": 10, "symbolOffset": 12, "labelOffset": 16.3, "rowPadding": 2, "labelFontSize": 19, "labelFont": "Open Sans", "labelColor": "black", "labelLimit": 400, "symbolSize": 4, "symbolStrokeWidth": 0, "symbolFillColor": "black", "strokeColor": "black", "fillColor": "white", "encode": {"legend": {"update": {"strokeWidth": {"value": 2}}}}}}
   }
  },
  {
   "data": {"name": "lines_a"},
   "mark": {"type": "line", "color": "black"},
   "encoding": {
    "x": {"field": "CO", "type": "quantitative", "axis": {"orient": "top", "labels": false, "title": null, "values": [50,55,60,65,70,75,80,85,90,95,100,105,110,115,120,125,130,135,140,145,150], "tickSize": {"condition": {"test": "datum.value % 20 === 0", "value": -8}, "value": -4.5}}},
    "y": {"field": "NOy", "type": "quantitative", "axis": {"orient": "right", "labels": false, "title": null, "domain": false, "values": [0,50,100,150,200,250,300,350,400,450,500,550,600,650,700,750,800,850,900,950,1000,1050,1100,1150,1200,1250,1300,1350,1400,1450,1500,1550,1600], "tickSize": {"condition": {"test": "datum.value % 200 === 0", "value": -8}, "value": -4.5}}},
    "strokeWidth": {"field": "series", "type": "ordinal", "scale": {"domain": ["LT (urban)", "LT (non-urban)"], "range": [1.4, 2.8]}, "legend": null}
   }
  },
  {
   "data": {"name": "trop_a"},
   "mark": {"type": "point", "shape": "circle", "filled": true, "color": "white", "size": 150, "opacity": 1},
   "encoding": {"x": {"field": "CO", "type": "quantitative", "axis": null}, "y": {"field": "NOy", "type": "quantitative", "axis": {"orient": "left", "labels": false, "ticks": false, "domain": false, "title": "y", "titleFontSize": 14, "titleAngle": 270, "titleAlign": "left", "titleBaseline": "alphabetic", "titleX": -82, "titleY": 298}}}
  },
  {
   "data": {"name": "trop_a"},
   "mark": {"type": "point", "shape": "M-7.5,0A7.5,7.5,0,1,1,7.5,0A7.5,7.5,0,1,1,-7.5,0ZM-5.7,0A5.7,5.7,0,1,0,5.7,0A5.7,5.7,0,1,0,-5.7,0ZM-1.2,0A1.2,1.2,0,1,1,1.2,0A1.2,1.2,0,1,1,-1.2,0Z", "filled": true, "color": "black", "size": 4, "opacity": 1},
   "encoding": {"x": {"field": "CO", "type": "quantitative", "axis": null}, "y": {"field": "NOy", "type": "quantitative", "axis": null}}
  },
  {
   "data": {"values": [{}]},
   "mark": {"type": "text", "text": "(a)", "font": "Open Sans", "fontWeight": "bold", "fontSize": 30, "align": "left", "baseline": "alphabetic", "color": "black"},
   "encoding": {"x": {"datum": 54.1, "type": "quantitative", "axis": null}, "y": {"datum": 1440, "type": "quantitative", "axis": null}}
  },
  {
   "data": {"values": [{}]},
   "mark": {"type": "text", "text": "UT (Z=9-13 km)", "font": "Open Sans", "fontSize": 30, "align": "left", "baseline": "alphabetic", "color": "black"},
   "encoding": {"x": {"datum": 63.2, "type": "quantitative", "axis": null}, "y": {"datum": 1440, "type": "quantitative", "axis": null}}
  }
 ]
},
{
 "width": 516, "height": 517,
 "resolve": {"axis": {"x": "independent", "y": "independent"}},
 "layer": [
  {
   "data": {"name": "nox"},
   "mark": {"type": "point", "filled": true, "color": "black", "size": 4, "opacity": 1},
   "encoding": {
    "x": {"field": "CO", "type": "quantitative", "scale": {"domain": [50, 150], "nice": false, "zero": false},
      "axis": {"orient": "bottom", "values": [50,55,60,65,70,75,80,85,90,95,100,105,110,115,120,125,130,135,140,145,150], "labelExpr": "datum.value % 20 === 0 ? datum.label : ''", "tickSize": {"condition": {"test": "datum.value % 20 === 0", "value": -8}, "value": -4.5}, "labelPadding": 22, "title": "CO ( ppbv )", "titlePadding": 14, "titleX": 235}},
    "y": {"field": "NOx", "type": "quantitative", "scale": {"domain": [0, 800], "nice": false},
      "axis": {"orient": "left", "format": "d", "values": [0,20,40,60,80,100,120,140,160,180,200,220,240,260,280,300,320,340,360,380,400,420,440,460,480,500,520,540,560,580,600,620,640,660,680,700,720,740,760,780,800], "labelExpr": "datum.value % 100 === 0 ? datum.label : ''", "tickSize": {"condition": {"test": "datum.value % 100 === 0", "value": -8}, "value": -4.5}, "labelPadding": 24, "title": "NO\u00a0\u00a0 ( pptv )", "titleAngle": 270, "titleAlign": "left", "titleBaseline": "alphabetic", "titleX": -86, "titleY": 265}},
    "shape": {"datum": "UT", "type": "nominal",
      "scale": {"domain": ["UT", "LT (urban)", "LT (non-urban)", "Tropical UT"], "range": ["M-3,0A3,3,0,1,1,3,0A3,3,0,1,1,-3,0Z", "M-22,-0.8H22V0.8H-22Z", "M-22,-1.5H22V1.5H-22Z", "M-7.5,0A7.5,7.5,0,1,1,7.5,0A7.5,7.5,0,1,1,-7.5,0ZM-5.7,0A5.7,5.7,0,1,0,5.7,0A5.7,5.7,0,1,0,-5.7,0ZM-1.2,0A1.2,1.2,0,1,1,1.2,0A1.2,1.2,0,1,1,-1.2,0Z"]},
      "legend": {"orient": "none", "legendX": 25, "legendY": 81, "title": null, "padding": 10, "symbolOffset": 12, "labelOffset": 16.3, "rowPadding": 2, "labelFontSize": 19, "labelFont": "Open Sans", "labelColor": "black", "labelLimit": 400, "symbolSize": 4, "symbolStrokeWidth": 0, "symbolFillColor": "black", "strokeColor": "black", "fillColor": "white", "encode": {"legend": {"update": {"strokeWidth": {"value": 2}}}}}}
   }
  },
  {
   "data": {"name": "lines_b"},
   "mark": {"type": "line", "color": "black"},
   "encoding": {
    "x": {"field": "CO", "type": "quantitative", "axis": {"orient": "top", "labels": false, "title": null, "values": [50,55,60,65,70,75,80,85,90,95,100,105,110,115,120,125,130,135,140,145,150], "tickSize": {"condition": {"test": "datum.value % 20 === 0", "value": -8}, "value": -4.5}}},
    "y": {"field": "NOx", "type": "quantitative", "axis": {"orient": "right", "labels": false, "title": null, "domain": false, "values": [0,20,40,60,80,100,120,140,160,180,200,220,240,260,280,300,320,340,360,380,400,420,440,460,480,500,520,540,560,580,600,620,640,660,680,700,720,740,760,780,800], "tickSize": {"condition": {"test": "datum.value % 100 === 0", "value": -8}, "value": -4.5}}},
    "strokeWidth": {"field": "series", "type": "ordinal", "scale": {"domain": ["LT (urban)", "LT (non-urban)"], "range": [1.4, 2.8]}, "legend": null}
   }
  },
  {
   "data": {"name": "trop_b"},
   "mark": {"type": "point", "shape": "circle", "filled": true, "color": "white", "size": 150, "opacity": 1},
   "encoding": {"x": {"field": "CO", "type": "quantitative", "axis": null}, "y": {"field": "NOx", "type": "quantitative", "axis": {"orient": "left", "labels": false, "ticks": false, "domain": false, "title": "x", "titleFontSize": 14, "titleAngle": 270, "titleAlign": "left", "titleBaseline": "alphabetic", "titleX": -82, "titleY": 234}}}
  },
  {
   "data": {"name": "trop_b"},
   "mark": {"type": "point", "shape": "M-7.5,0A7.5,7.5,0,1,1,7.5,0A7.5,7.5,0,1,1,-7.5,0ZM-5.7,0A5.7,5.7,0,1,0,5.7,0A5.7,5.7,0,1,0,-5.7,0ZM-1.2,0A1.2,1.2,0,1,1,1.2,0A1.2,1.2,0,1,1,-1.2,0Z", "filled": true, "color": "black", "size": 4, "opacity": 1},
   "encoding": {"x": {"field": "CO", "type": "quantitative", "axis": null}, "y": {"field": "NOx", "type": "quantitative", "axis": null}}
  },
  {
   "data": {"values": [{}]},
   "mark": {"type": "text", "text": "(b)", "font": "Open Sans", "fontWeight": "bold", "fontSize": 30, "align": "left", "baseline": "alphabetic", "color": "black"},
   "encoding": {"x": {"datum": 54.1, "type": "quantitative", "axis": null}, "y": {"datum": 717, "type": "quantitative", "axis": null}}
  },
  {
   "data": {"values": [{}]},
   "mark": {"type": "text", "text": "UT (Z=9-13 km)", "font": "Open Sans", "fontSize": 30, "align": "left", "baseline": "alphabetic", "color": "black"},
   "encoding": {"x": {"datum": 63.2, "type": "quantitative", "axis": null}, "y": {"datum": 717, "type": "quantitative", "axis": null}}
  }
 ]
}
]
}
